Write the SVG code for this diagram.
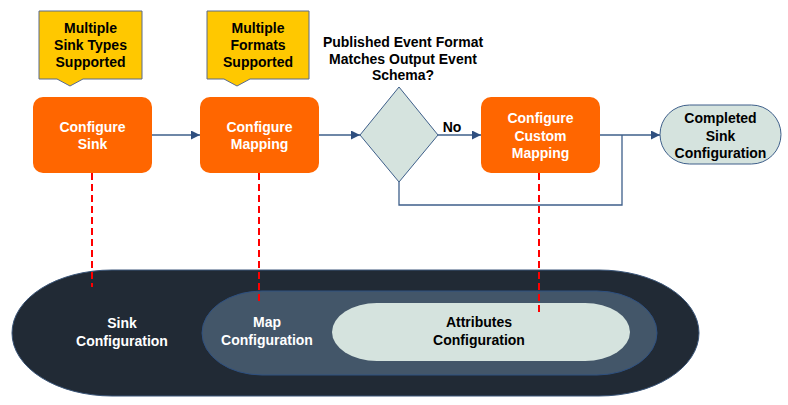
<svg xmlns="http://www.w3.org/2000/svg" width="788" height="405" viewBox="0 0 788 405">
<style>
text{font-family:"Liberation Sans",Arial,sans-serif;font-weight:bold;font-size:14px;text-anchor:middle}
.w{fill:#ffffff}
.k{fill:#000000}
.proc{fill:#ff6600}
.call{fill:#ffc800;stroke:#5a6b8c;stroke-width:1}
.light{fill:#d5e3de;stroke:#3e5f8a;stroke-width:1}
.conn{fill:none;stroke:#3e5f8a;stroke-width:1.3}
.dash{fill:none;stroke:#ff0000;stroke-width:2;stroke-dasharray:7,4}
</style>
<defs>
<marker id="arr" viewBox="0 0 10 10" refX="10" refY="5" markerWidth="9" markerHeight="9" markerUnits="userSpaceOnUse" orient="auto">
<path d="M0,0 L10,5 L0,10 Z" fill="#2f4f7f"/>
</marker>
</defs>
<rect width="788" height="405" fill="#ffffff"/>

<g id="sink-config-layer">
<rect x="12" y="270" width="687" height="126" rx="100" ry="63" fill="#212a35" stroke="#3a5578" stroke-width="1"/>
<text class="w" x="122" y="328">Sink</text>
<text class="w" x="122" y="346">Configuration</text>
</g>
<g id="map-config-layer">
<rect x="202" y="291" width="455" height="84" rx="60" ry="42" fill="#435669" stroke="#2e5080" stroke-width="1"/>
<text class="w" x="267" y="327">Map</text>
<text class="w" x="267" y="345">Configuration</text>
</g>
<g id="attributes-config-layer">
<rect x="332" y="303" width="298" height="58" rx="45" ry="29" fill="#d5e3de"/>
<text class="k" x="479" y="327">Attributes</text>
<text class="k" x="479" y="345">Configuration</text>
</g>

<g id="connectors">
<line class="conn" x1="152" y1="135" x2="200" y2="135" marker-end="url(#arr)"/>
<line class="conn" x1="319" y1="135" x2="360" y2="135" marker-end="url(#arr)"/>
<line class="conn" x1="438" y1="135" x2="481" y2="135" marker-end="url(#arr)"/>
<line class="conn" x1="600" y1="135" x2="660" y2="135" marker-end="url(#arr)"/>
<polyline class="conn" points="399,182 399,205 622,205 622,135"/>
<text class="k" x="452" y="132">No</text>
<line class="dash" x1="92" y1="173" x2="92" y2="287"/>
<line class="dash" x1="259" y1="173" x2="259" y2="302"/>
<line class="dash" x1="539" y1="173" x2="539" y2="314"/>
</g>

<g id="callout-sink-types">
<path class="call" d="M39,11 H142 V79 H83 L70,86 L57,79 H39 Z"/>
<text class="k" x="90.5" y="33">Multiple</text>
<text class="k" x="90.5" y="50">Sink Types</text>
<text class="k" x="90.5" y="67">Supported</text>
</g>
<g id="callout-formats">
<path class="call" d="M207,11 H309 V79 H250 L237,86 L224,79 H207 Z"/>
<text class="k" x="258" y="33">Multiple</text>
<text class="k" x="258" y="50">Formats</text>
<text class="k" x="258" y="67">Supported</text>
</g>

<g id="configure-sink">
<rect class="proc" x="33" y="97" width="119" height="76" rx="10"/>
<text class="w" x="92.5" y="132">Configure</text>
<text class="w" x="92.5" y="149">Sink</text>
</g>
<g id="configure-mapping">
<rect class="proc" x="200" y="97" width="119" height="76" rx="10"/>
<text class="w" x="259.5" y="132">Configure</text>
<text class="w" x="259.5" y="149">Mapping</text>
</g>
<g id="decision">
<path class="light" d="M399,87 L438,135 L399,182 L360,135 Z"/>
<text class="k" x="403" y="47">Published Event Format</text>
<text class="k" x="403" y="63.5">Matches Output Event</text>
<text class="k" x="403" y="80">Schema?</text>
</g>
<g id="configure-custom-mapping">
<rect class="proc" x="481" y="97" width="119" height="76" rx="10"/>
<text class="w" x="540.5" y="123">Configure</text>
<text class="w" x="540.5" y="140.5">Custom</text>
<text class="w" x="540.5" y="158">Mapping</text>
</g>
<g id="completed">
<rect class="light" x="660" y="105" width="121" height="59" rx="29.5"/>
<text class="k" x="720.5" y="123">Completed</text>
<text class="k" x="720.5" y="140.5">Sink</text>
<text class="k" x="720.5" y="158">Configuration</text>
</g>
</svg>
